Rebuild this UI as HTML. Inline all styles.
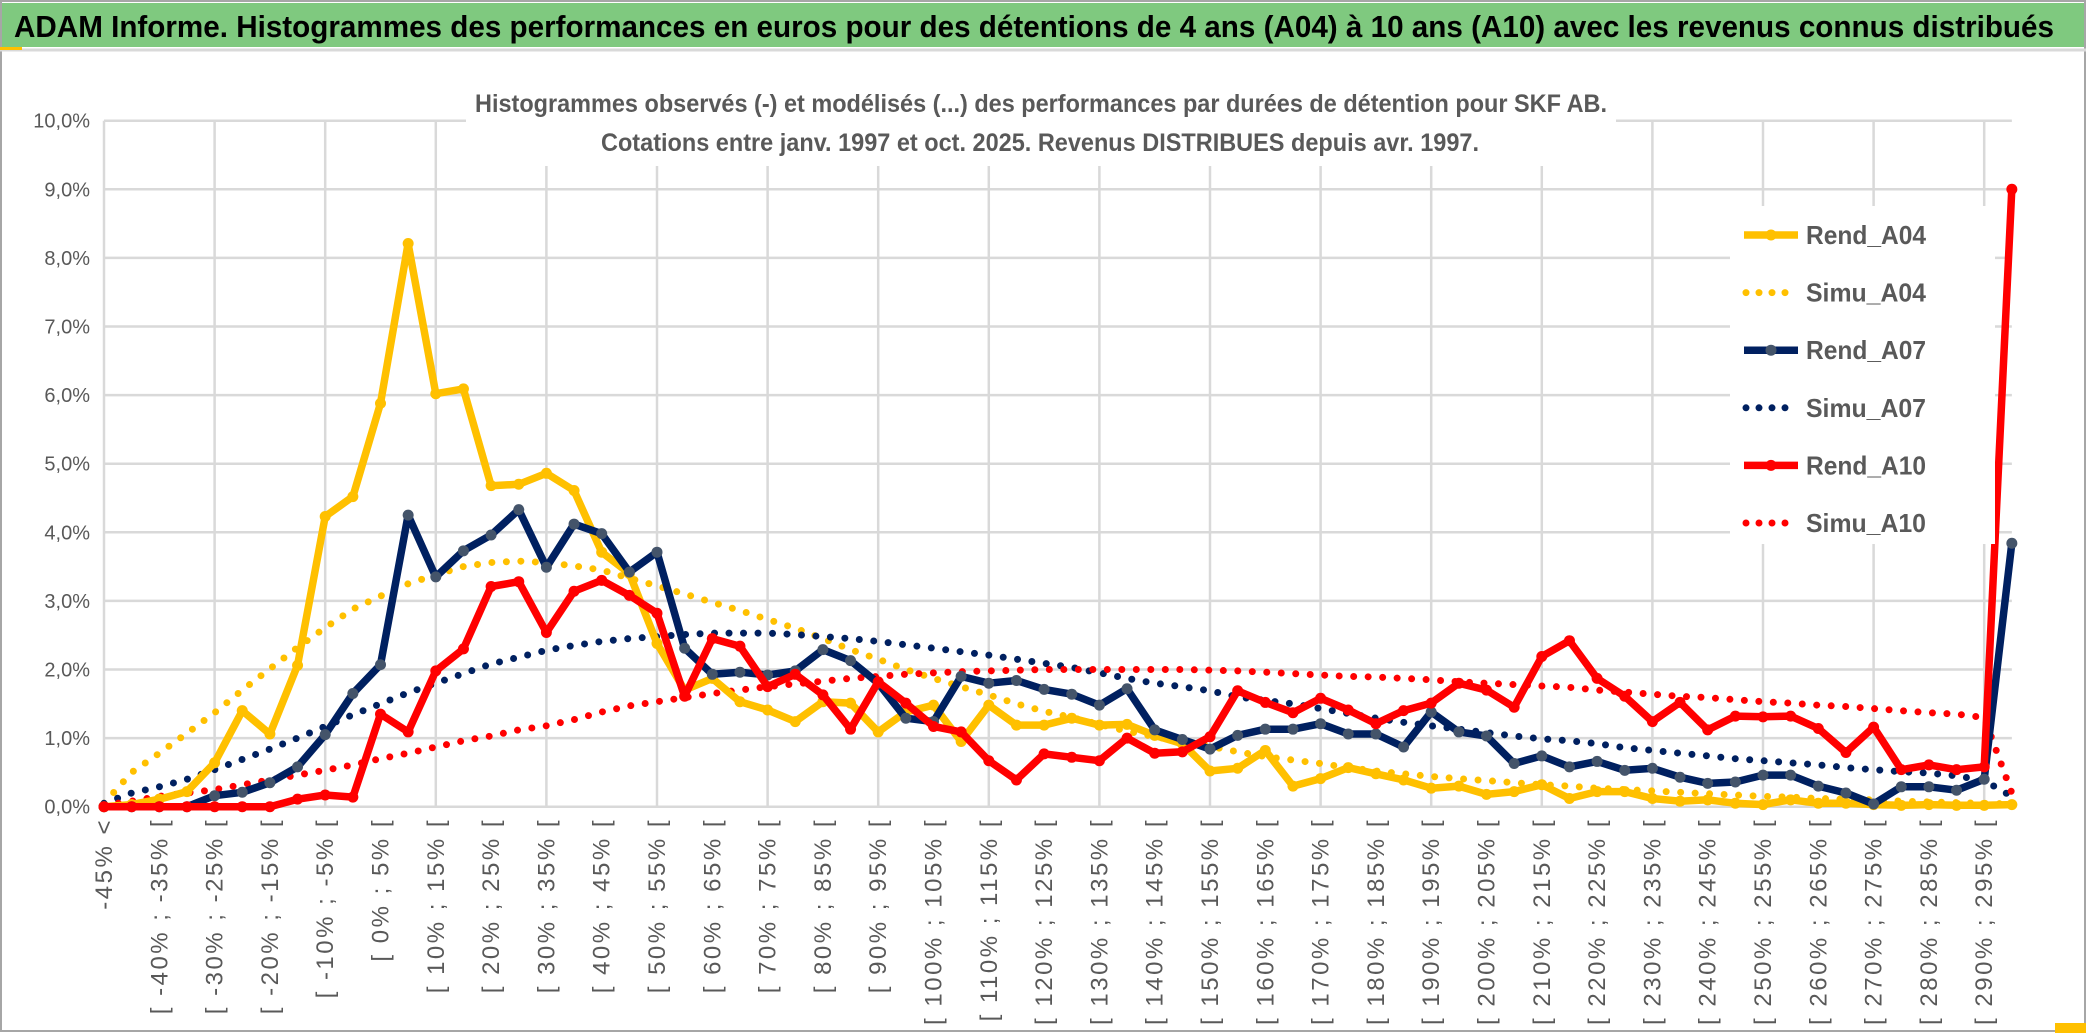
<!DOCTYPE html>
<html><head><meta charset="utf-8"><style>
html,body{margin:0;padding:0;background:#fff;}
svg{display:block;font-family:"Liberation Sans",sans-serif;}
</style></head><body>
<svg id="chart" width="2086" height="1033" viewBox="0 0 2086 1033" xmlns="http://www.w3.org/2000/svg">
<rect x="0" y="0" width="2086" height="1033" fill="#fff"/>
<rect x="1" y="1" width="2084" height="1030" fill="none" stroke="#a6a6a6" stroke-width="2"/>
<rect x="2" y="3" width="2082" height="44" fill="#7fc97f"/>
<line x1="0" y1="50" x2="2086" y2="50" stroke="#d9d9d9" stroke-width="3"/>
<rect x="0" y="47" width="22" height="3" fill="#ffc000"/>
<rect x="2055" y="1023" width="31" height="10" fill="#ffc000"/>
<text x="14" y="37" font-size="31" font-weight="bold" fill="#000" textLength="2040" lengthAdjust="spacingAndGlyphs">ADAM Informe. Histogrammes des performances en euros pour des détentions de 4 ans (A04) à 10 ans (A10) avec les revenus connus distribués</text>
<g id="grid"></g>
<g id="yaxis"></g>
<g id="xaxis"></g>
<rect x="466" y="82" width="1150" height="84" fill="#fff"/>
<text x="1041" y="112" font-size="25" font-weight="bold" fill="#595959" text-anchor="middle" textLength="1132" lengthAdjust="spacingAndGlyphs">Histogrammes observés (-) et modélisés (...) des performances par durées de détention pour SKF AB.</text>
<text x="1040" y="151" font-size="25" font-weight="bold" fill="#595959" text-anchor="middle" textLength="878" lengthAdjust="spacingAndGlyphs">Cotations entre janv. 1997 et oct. 2025. Revenus DISTRIBUES depuis avr. 1997.</text>
<g id="series"></g>
<rect x="1730" y="206" width="265" height="338" fill="#fff"/>
<g id="legend"></g>
</svg>
<script>
const categories = [];
for (let i = 0; i < 70; i++) {
  if (i === 0) categories.push('-45% <');
  else { const a = -45 + 5 * (i - 1); categories.push('[ ' + a + '% ; ' + (a + 5) + '% ['); }
}
const yTicks = [0,1,2,3,4,5,6,7,8,9,10];
const rendA04 = [0,0.03,0.11,0.22,0.64,1.4,1.06,2.06,4.23,4.52,5.88,8.21,6.02,6.09,4.68,4.7,4.86,4.61,3.71,3.4,2.38,1.7,1.87,1.53,1.41,1.24,1.53,1.51,1.09,1.38,1.48,0.95,1.48,1.19,1.19,1.29,1.19,1.2,1.04,0.92,0.52,0.56,0.82,0.3,0.41,0.57,0.48,0.39,0.27,0.3,0.18,0.22,0.32,0.12,0.22,0.22,0.12,0.08,0.1,0.05,0.03,0.1,0.05,0.05,0.03,0.02,0.03,0.02,0.02,0.03];
const rendA07 = [0,0,0,0,0.16,0.21,0.35,0.58,1.05,1.65,2.07,4.25,3.35,3.73,3.96,4.33,3.49,4.12,3.98,3.42,3.71,2.31,1.93,1.96,1.92,1.98,2.29,2.13,1.8,1.29,1.24,1.9,1.8,1.84,1.71,1.64,1.48,1.72,1.12,0.98,0.84,1.04,1.13,1.13,1.21,1.06,1.06,0.87,1.38,1.09,1.03,0.63,0.74,0.58,0.66,0.53,0.56,0.43,0.34,0.36,0.46,0.46,0.3,0.2,0.04,0.29,0.29,0.24,0.4,3.84];
const rendA10 = [0,0,0,0,0,0,0,0.11,0.17,0.14,1.35,1.09,1.98,2.3,3.21,3.28,2.54,3.14,3.3,3.08,2.82,1.61,2.45,2.34,1.75,1.93,1.63,1.13,1.82,1.51,1.17,1.09,0.67,0.39,0.77,0.72,0.67,1.0,0.78,0.8,1.02,1.69,1.52,1.37,1.58,1.41,1.21,1.4,1.51,1.8,1.7,1.45,2.19,2.42,1.87,1.61,1.24,1.52,1.12,1.32,1.31,1.32,1.14,0.79,1.16,0.54,0.61,0.54,0.58,9.0];
const simuA04 = [0.05,0.5,0.78,1.07,1.37,1.7,2.01,2.32,2.61,2.88,3.07,3.25,3.38,3.5,3.56,3.58,3.56,3.51,3.45,3.33,3.22,3.1,2.98,2.86,2.73,2.6,2.45,2.29,2.15,2.0,1.87,1.75,1.63,1.5,1.39,1.3,1.2,1.1,1.02,0.95,0.88,0.8,0.73,0.68,0.63,0.57,0.52,0.48,0.44,0.41,0.38,0.35,0.32,0.3,0.27,0.25,0.23,0.21,0.19,0.17,0.15,0.14,0.12,0.11,0.1,0.08,0.07,0.06,0.05,0.04];
const simuA07 = [0.05,0.2,0.29,0.4,0.54,0.69,0.84,1.0,1.17,1.34,1.5,1.66,1.8,1.94,2.08,2.18,2.28,2.35,2.41,2.45,2.48,2.51,2.53,2.53,2.53,2.51,2.48,2.45,2.41,2.36,2.31,2.26,2.21,2.15,2.09,2.03,1.95,1.87,1.8,1.75,1.69,1.6,1.55,1.5,1.43,1.36,1.29,1.23,1.18,1.13,1.08,1.03,0.99,0.96,0.92,0.86,0.82,0.78,0.74,0.7,0.67,0.64,0.61,0.57,0.54,0.51,0.49,0.45,0.38,0.15];
const simuA10 = [0.02,0.08,0.15,0.2,0.25,0.32,0.39,0.46,0.53,0.61,0.7,0.78,0.87,0.96,1.03,1.12,1.18,1.27,1.38,1.47,1.53,1.59,1.65,1.7,1.75,1.79,1.83,1.87,1.9,1.93,1.95,1.97,1.98,1.99,2.0,2.0,2.0,2.0,2.0,2.0,1.99,1.98,1.96,1.94,1.92,1.9,1.89,1.87,1.85,1.82,1.8,1.78,1.76,1.74,1.7,1.67,1.64,1.61,1.59,1.56,1.53,1.51,1.48,1.46,1.43,1.4,1.37,1.35,1.3,0.2];
const seriesNames = ['Rend_A04','Simu_A04','Rend_A07','Simu_A07','Rend_A10','Simu_A10'];

const NS = 'http://www.w3.org/2000/svg';
const X0 = 104, DX = 27.65, Y0 = 806.7, DY = 68.6;
const xs = i => X0 + i * DX;
const ys = v => Y0 - v * DY;
function mk(tag, attrs, parent) {
  const e = document.createElementNS(NS, tag);
  for (const k in attrs) e.setAttribute(k, attrs[k]);
  parent.appendChild(e);
  return e;
}
const grid = document.getElementById('grid');
const yaxis = document.getElementById('yaxis');
const xaxis = document.getElementById('xaxis');
const XR = xs(categories.length - 1);
yTicks.forEach(t => {
  const l = mk('line', {x1: X0, x2: XR, y1: ys(t), y2: ys(t), stroke: '#d9d9d9', 'stroke-width': 2.5}, grid);
  
  
  const tx = mk('text', {x: 90, y: ys(t) + 7, 'font-size': 20, fill: '#595959', 'text-anchor': 'end'}, yaxis);
  tx.textContent = t.toFixed(1).replace('.', ',') + '%';
  
  
});
categories.forEach((c, i) => {
  if (i % 4 === 0) {
    const l = mk('line', {x1: xs(i), x2: xs(i), y1: ys(10), y2: ys(0), stroke: '#d9d9d9', 'stroke-width': 2.5}, grid);
    
    
  }
  if (i % 2 === 0) {
    const tx = mk('text', {x: 0, y: 0, 'font-size': 24, 'letter-spacing': 2.5, fill: '#595959', 'text-anchor': 'end', transform: 'translate(' + (xs(i) + 8) + ',818) rotate(-90)'}, xaxis);
    tx.textContent = c;
    
    
  }
});
const ser = document.getElementById('series');
function pts(arr) { return arr.map((v, i) => xs(i).toFixed(1) + ',' + ys(v).toFixed(1)).join(' '); }
function dotted(arr, color, name) {
  const p = mk('polyline', {points: pts(arr), fill: 'none', stroke: color, 'stroke-width': 7, 'stroke-linecap': 'round', 'stroke-dasharray': '0 14.5'}, ser);
  
  
}
function solid(arr, color, mcolor, name) {
  const g = mk('g', {}, ser);
  
  
  mk('polyline', {points: pts(arr), fill: 'none', stroke: color, 'stroke-width': 7.5, 'stroke-linejoin': 'round'}, g);
  arr.forEach((v, i) => {
    const c = mk('circle', {cx: xs(i), cy: ys(v), r: 5.5, fill: mcolor}, g);
    
    
  });
}
dotted(simuA04, '#ffc000', 'simu-a04-line');
dotted(simuA07, '#002060', 'simu-a07-line');
dotted(simuA10, '#ff0000', 'simu-a10-line');
solid(rendA04, '#ffc000', '#ffc000', 'rend-a04-line');
solid(rendA07, '#002060', '#44546a', 'rend-a07-line');
solid(rendA10, '#ff0000', '#ff0000', 'rend-a10-line');

const leg = document.getElementById('legend');
const legColors = ['#ffc000','#ffc000','#002060','#002060','#ff0000','#ff0000'];
const legMarker = ['#ffc000',null,'#44546a',null,'#ff0000',null];
seriesNames.forEach((n, k) => {
  const y = 235 + k * 57.6;
  const g = mk('g', {}, leg);
  
  
  if (n.startsWith('Rend')) {
    mk('line', {x1: 1744, x2: 1798, y1: y, y2: y, stroke: legColors[k], 'stroke-width': 7.5}, g);
    mk('circle', {cx: 1771, cy: y, r: 5.5, fill: legMarker[k]}, g);
  } else {
    mk('line', {x1: 1746, x2: 1798, y1: y, y2: y, stroke: legColors[k], 'stroke-width': 7, 'stroke-linecap': 'round', 'stroke-dasharray': '0 13'}, g);
  }
  const t = mk('text', {x: 1806, y: y + 9, 'font-size': 26, 'font-weight': 'bold', fill: '#595959', textLength: 120, lengthAdjust: 'spacingAndGlyphs'}, g);
  t.textContent = n;
});
</script>
</body></html>
